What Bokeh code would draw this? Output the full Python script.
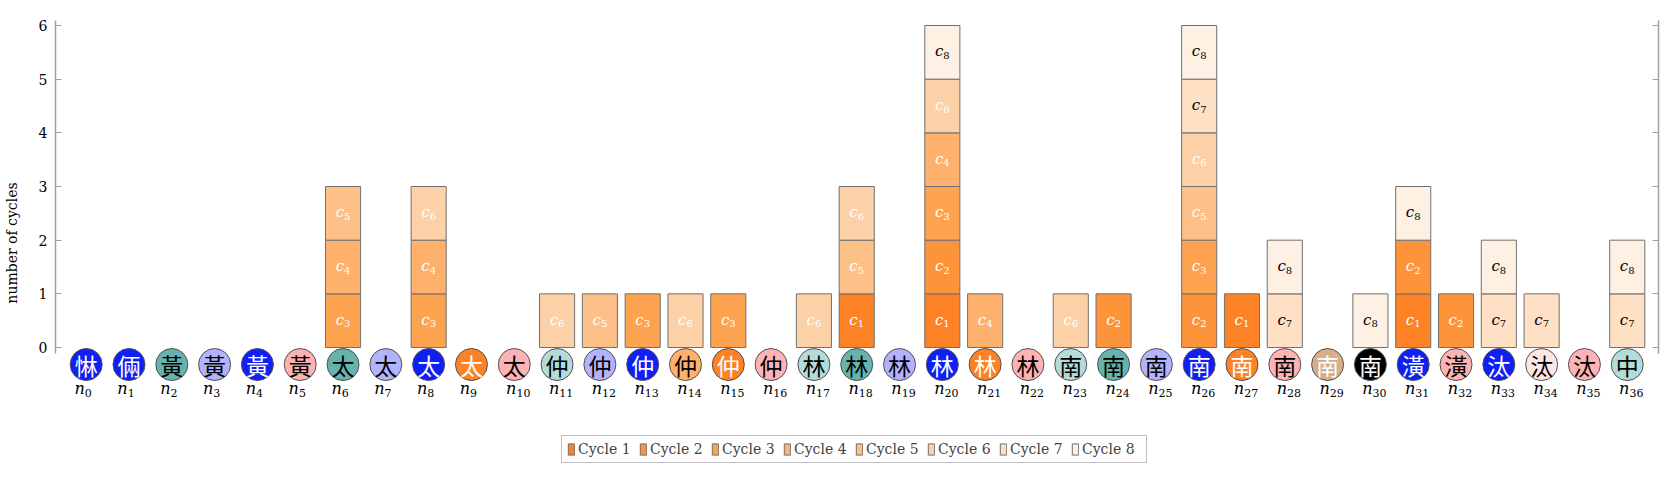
from bokeh.plotting import figure
from bokeh.models import ColumnDataSource, LinearAxis, Range1d, FixedTicker, Legend, LegendItem
from bokeh.core.properties import value
from bokeh.embed import file_html
from bokeh.resources import INLINE

# ---------------- data ----------------
node_index = list(range(37))
node_sub = [str(i) for i in node_index]
node_chars = ["惏", "倆", "黃", "黃", "黃", "黃", "太", "太", "太", "太", "太",
              "仲", "仲", "仲", "仲", "仲", "仲", "林", "林", "林", "林", "林", "林",
              "南", "南", "南", "南", "南", "南", "南", "南", "潢", "潢", "汰", "汰", "汰", "中"]
node_fill = ["blue", "blue", "teal", "lav", "blue", "pink", "teal", "lav", "blue", "orange", "pink",
             "ltteal", "lav", "blue", "ltorange", "orange", "pink", "ltteal", "teal", "lav", "blue",
             "orange", "pink", "ltteal", "teal", "lav", "blue", "orange", "pink", "tan", "black",
             "blue", "pink", "blue", "vlpink", "pink", "ltteal"]

cycle_names = ["Cycle 1", "Cycle 2", "Cycle 3", "Cycle 4", "Cycle 5", "Cycle 6", "Cycle 7", "Cycle 8"]
#          n0 1  2  3  4  5  6  7  8  9 10 11 12 13 14 15 16 17 18 19 20 21 22 23 24 25 26 27 28 29 30 31 32 33 34 35 36
cycle_1 = [0, 0, 0, 0, 0, 0, 0, 0, 0, 0, 0, 0, 0, 0, 0, 0, 0, 0, 1, 0, 1, 0, 0, 0, 0, 0, 0, 1, 0, 0, 0, 1, 0, 0, 0, 0, 0]
cycle_2 = [0, 0, 0, 0, 0, 0, 0, 0, 0, 0, 0, 0, 0, 0, 0, 0, 0, 0, 0, 0, 1, 0, 0, 0, 1, 0, 1, 0, 0, 0, 0, 1, 1, 0, 0, 0, 0]
cycle_3 = [0, 0, 0, 0, 0, 0, 1, 0, 1, 0, 0, 0, 0, 1, 0, 1, 0, 0, 0, 0, 1, 0, 0, 0, 0, 0, 1, 0, 0, 0, 0, 0, 0, 0, 0, 0, 0]
cycle_4 = [0, 0, 0, 0, 0, 0, 1, 0, 1, 0, 0, 0, 0, 0, 0, 0, 0, 0, 0, 0, 1, 1, 0, 0, 0, 0, 0, 0, 0, 0, 0, 0, 0, 0, 0, 0, 0]
cycle_5 = [0, 0, 0, 0, 0, 0, 1, 0, 0, 0, 0, 0, 1, 0, 0, 0, 0, 0, 1, 0, 0, 0, 0, 0, 0, 0, 1, 0, 0, 0, 0, 0, 0, 0, 0, 0, 0]
cycle_6 = [0, 0, 0, 0, 0, 0, 0, 0, 1, 0, 0, 1, 0, 0, 1, 0, 0, 1, 1, 0, 1, 0, 0, 1, 0, 0, 1, 0, 0, 0, 0, 0, 0, 0, 0, 0, 0]
cycle_7 = [0, 0, 0, 0, 0, 0, 0, 0, 0, 0, 0, 0, 0, 0, 0, 0, 0, 0, 0, 0, 0, 0, 0, 0, 0, 0, 1, 0, 1, 0, 0, 0, 0, 1, 1, 0, 1]
cycle_8 = [0, 0, 0, 0, 0, 0, 0, 0, 0, 0, 0, 0, 0, 0, 0, 0, 0, 0, 0, 0, 1, 0, 0, 0, 0, 0, 1, 0, 1, 0, 1, 1, 0, 1, 0, 0, 1]
cycles = [cycle_1, cycle_2, cycle_3, cycle_4, cycle_5, cycle_6, cycle_7, cycle_8]

y_ticks = [0, 1, 2, 3, 4, 5, 6]

# ---------------- style ----------------
cycle_colors = ["#fd8226", "#fd9439", "#fda24f", "#fdb16c", "#fdc089", "#fdd1a7", "#fee0c4", "#fef0e2"]
cycle_text_colors = ["white"] * 6 + ["black"] * 2
palette = {"blue": "#0f1ff6", "teal": "#66b2ad", "lav": "#b3b3fd", "pink": "#fdb3b3",
           "ltteal": "#b3dcd8", "orange": "#fd8226", "ltorange": "#fdb16c", "tan": "#d6ae8b",
           "black": "#000000", "vlpink": "#fde6e6"}
dark_nodes = {"blue", "orange", "tan", "black"}
SERIF = "DejaVu Serif"
AXIS_GRAY = "#a0a0a0"

p = figure(frame_width=1603, frame_height=445,
           x_range=Range1d(-0.717, 36.73), y_range=Range1d(-2.198, 6.093),
           x_axis_location=None, y_axis_location=None,
           output_backend="svg", toolbar_location=None,
           min_border_left=0, min_border_right=3, min_border_top=20, min_border_bottom=0)
p.outline_line_color = None
p.xgrid.visible = False
p.ygrid.visible = False
p.background_fill_color = "white"
p.border_fill_color = "white"

# axes
left = LinearAxis(ticker=FixedTicker(ticks=y_ticks), bounds=(-0.11, 6.093))
left.axis_label = "number of cycles"
right = LinearAxis(ticker=FixedTicker(ticks=y_ticks), bounds=(-0.11, 6.093))
for ax in (left, right):
    ax.axis_line_color = AXIS_GRAY
    ax.axis_line_width = 1.5
    ax.major_tick_line_color = AXIS_GRAY
    ax.major_tick_line_width = 1.2
    ax.major_tick_in = 6
    ax.major_tick_out = 0
    ax.minor_tick_line_color = None
left.major_label_text_font = SERIF
left.major_label_text_font_size = "14px"
left.major_label_text_color = "black"
left.major_label_standoff = 8
left.axis_label_text_font = SERIF
left.axis_label_text_font_size = "14px"
left.axis_label_text_font_style = "normal"
left.axis_label_text_color = "black"
left.axis_label_standoff = 16
right.major_label_overrides = {t: "" for t in y_ticks}
right.major_label_text_font_size = "1px"
right.major_label_standoff = 0
p.add_layout(left, "left")
p.add_layout(right, "right")

# stacked bars
stack = [0] * len(node_index)
legend_items = []
for k, (name, arr) in enumerate(zip(cycle_names, cycles)):
    xs, bots, tops, mids, subs, cs = [], [], [], [], [], []
    for i, v in zip(node_index, arr):
        if v:
            xs.append(i)
            bots.append(stack[i])
            tops.append(stack[i] + v)
            mids.append(stack[i] + v / 2)
            subs.append(str(k + 1))
            cs.append("c")
            stack[i] += v
    src = ColumnDataSource(dict(x=xs, bottom=bots, top=tops, mid=mids, sub=subs, c=cs))
    r = p.vbar(x="x", bottom="bottom", top="top", width=0.82, source=src,
               fill_color=cycle_colors[k], line_color="#707070", line_width=1)
    p.text(x="x", y="mid", text="c", source=src, text_font=value(SERIF), text_font_style="italic",
           text_font_size="15px", text_color=cycle_text_colors[k], text_align="right",
           text_baseline="middle", x_offset=1, y_offset=-1)
    p.text(x="x", y="mid", text="sub", source=src, text_font=value(SERIF),
           text_font_size="10px", text_color=cycle_text_colors[k], text_align="left",
           text_baseline="middle", x_offset=1, y_offset=3)
    legend_items.append(LegendItem(label=name, renderers=[r]))

# node circles and labels
CIRCLE_Y = -0.317
LABEL_Y = -0.783
nsrc = ColumnDataSource(dict(
    x=node_index, ch=node_chars,
    fill=[palette[f] for f in node_fill],
    tc=["white" if f in dark_nodes else "black" for f in node_fill],
    n=["n"] * len(node_index), sub=node_sub,
    noff=[(7.0 * len(s) - 9.7) / 2 for s in node_sub],
    cy=[CIRCLE_Y] * len(node_index), ly=[LABEL_Y] * len(node_index)))
p.scatter(x="x", y="cy", size=32, marker="circle", source=nsrc, fill_color="fill",
          line_color="#505050", line_width=1)
p.text(x="x", y="cy", text="ch", source=nsrc, text_font=value("Noto Sans CJK TC"),
       text_font_size="23px", text_color="tc", text_align="center", text_baseline="middle")
p.text(x="x", y="ly", text="n", source=nsrc, text_font=value(SERIF), text_font_style="italic",
       text_font_size="16px", text_color="black", text_align="right", text_baseline="middle",
       x_offset="noff", y_offset=-1)
p.text(x="x", y="ly", text="sub", source=nsrc, text_font=value(SERIF),
       text_font_size="11px", text_color="black", text_align="left", text_baseline="middle",
       x_offset="noff", y_offset=3.5)

legend = Legend(items=legend_items, orientation="horizontal", location=(506, 2))
legend.glyph_width = 8
legend.glyph_height = 14
legend.label_standoff = 3
legend.spacing = 2
legend.padding = 5
legend.margin = 0
legend.label_width = 59
legend.label_height = 14
legend.label_text_font = SERIF
legend.label_text_font_size = "14px"
legend.label_text_baseline = "middle"
legend.border_line_color = "#808080"
legend.border_line_width = 1
legend.background_fill_color = "white"
legend.background_fill_alpha = 1
p.add_layout(legend, "center")

open("out.html", "w").write(file_html(p, INLINE))
